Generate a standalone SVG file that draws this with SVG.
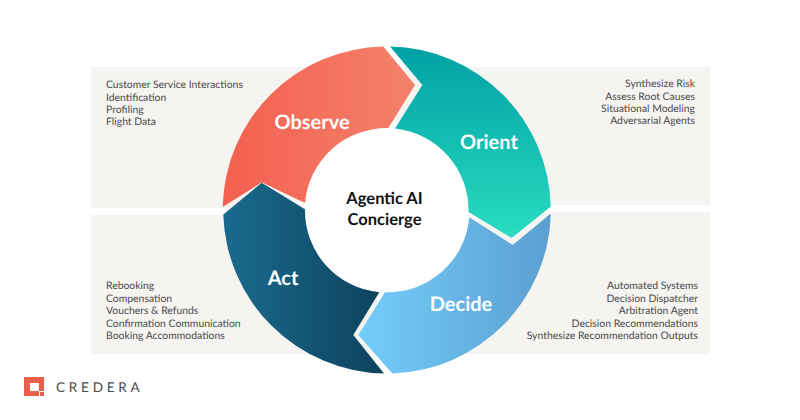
<svg xmlns="http://www.w3.org/2000/svg" width="800" height="420" viewBox="0 0 800 420">
<style>
text{text-rendering:geometricPrecision}
.t{font-family:Lato,"Liberation Sans",sans-serif;font-size:10.4px;fill:#4a4a4d}
.e{text-anchor:end}
.l{font-family:Lato,"Liberation Sans",sans-serif;font-size:20px;font-weight:700;fill:#fff;text-anchor:middle}
.c{font-family:Lato,"Liberation Sans",sans-serif;font-size:16.5px;font-weight:700;fill:#111;text-anchor:middle}
.p{fill:#f5f4f1}
</style>
<defs>
<linearGradient id="gO" gradientUnits="userSpaceOnUse" x1="223" y1="0" x2="416" y2="0"><stop offset="0" stop-color="#f4604f"/><stop offset="1" stop-color="#f4816b"/></linearGradient>
<linearGradient id="gR" gradientUnits="userSpaceOnUse" x1="0" y1="47" x2="0" y2="238"><stop offset="0" stop-color="#00a0a4"/><stop offset="1" stop-color="#2adcc0"/></linearGradient>
<linearGradient id="gD" gradientUnits="userSpaceOnUse" x1="358" y1="0" x2="551" y2="0"><stop offset="0" stop-color="#74cdfb"/><stop offset="1" stop-color="#5b9fd0"/></linearGradient>
<linearGradient id="gA" gradientUnits="userSpaceOnUse" x1="223" y1="0" x2="385" y2="0"><stop offset="0" stop-color="#1a6b8e"/><stop offset="1" stop-color="#0d425c"/></linearGradient>
</defs>
<g id="panels">
<path class="p" d="M91 67H710V205H400V208H91Z"/>
<path class="p" d="M91 215H400V212H710V354H91Z"/>
<circle cx="387" cy="210" r="90" fill="#fff"/>
</g>
<g id="observe">
<path fill="url(#gO)" d="M383.300 46.500L415 85L388.300 128A82 82 0 0 0 305 203L261.700 182.300L222.700 207A164 164 0 0 1 383.300 46.500Z"/>
<text class="l" x="312" y="129">Observe</text>
</g>
<g id="orient">
<path fill="url(#gR)" d="M390 46.500A164 164 0 0 1 550.800 206.500L511.700 238L468.500 212A82 82 0 0 0 395 128.500L422.300 85Z"/>
<text class="l" x="489" y="149">Orient</text>
</g>
<g id="decide">
<path fill="url(#gD)" d="M550.800 213.500A164 164 0 0 1 392.300 373.500L358.300 335L385 292.300A82 82 0 0 0 469.300 217.300L512.700 245Z"/>
<text class="l" x="461" y="311">Decide</text>
</g>
<g id="act">
<path fill="url(#gA)" d="M223.300 214.500L261.700 182.700L305 209.300A82 82 0 0 0 379.300 292.300L353.300 335L384 373.500A164 164 0 0 1 223.300 214.500Z"/>
<text class="l" x="283" y="285">Act</text>
</g>
<g id="center">
<text class="c" x="384.500" y="204">Agentic AI</text>
<text class="c" x="384.500" y="224.500">Concierge</text>
</g>
<g id="observe-notes">
<text class="t" x="106" y="88">Customer Service Interactions</text>
<text class="t" x="106" y="100.500">Identification</text>
<text class="t" x="106" y="113">Profiling</text>
<text class="t" x="106" y="125">Flight Data</text>
</g>
<g id="orient-notes">
<text class="t e" x="695" y="87">Synthesize Risk</text>
<text class="t e" x="695" y="99.500">Assess Root Causes</text>
<text class="t e" x="695" y="112">Situational Modeling</text>
<text class="t e" x="695" y="124">Adversarial Agents</text>
</g>
<g id="act-notes">
<text class="t" x="106" y="289">Rebooking</text>
<text class="t" x="106" y="302">Compensation</text>
<text class="t" x="106" y="314">Vouchers &amp; Refunds</text>
<text class="t" x="106" y="327">Confirmation Communication</text>
<text class="t" x="106" y="339">Booking Accommodations</text>
</g>
<g id="decide-notes">
<text class="t e" x="698" y="289">Automated Systems</text>
<text class="t e" x="698" y="302">Decision Dispatcher</text>
<text class="t e" x="698" y="314">Arbitration Agent</text>
<text class="t e" x="698" y="327">Decision Recommendations</text>
<text class="t e" x="698" y="339">Synthesize Recommendation Outputs</text>
</g>
<g id="logo">
<path fill="#e8604c" fill-rule="evenodd" d="M24 377H44V391H39V396H24ZM30 383V391H39V383Z"/>
<rect x="40" y="392" width="4" height="4" fill="#e8604c"/>
<text x="56" y="392" font-family="Lato,'Liberation Sans',sans-serif" font-size="13.5" letter-spacing="3.800" fill="#4a4a4d">CREDERA</text>
</g>
</svg>
